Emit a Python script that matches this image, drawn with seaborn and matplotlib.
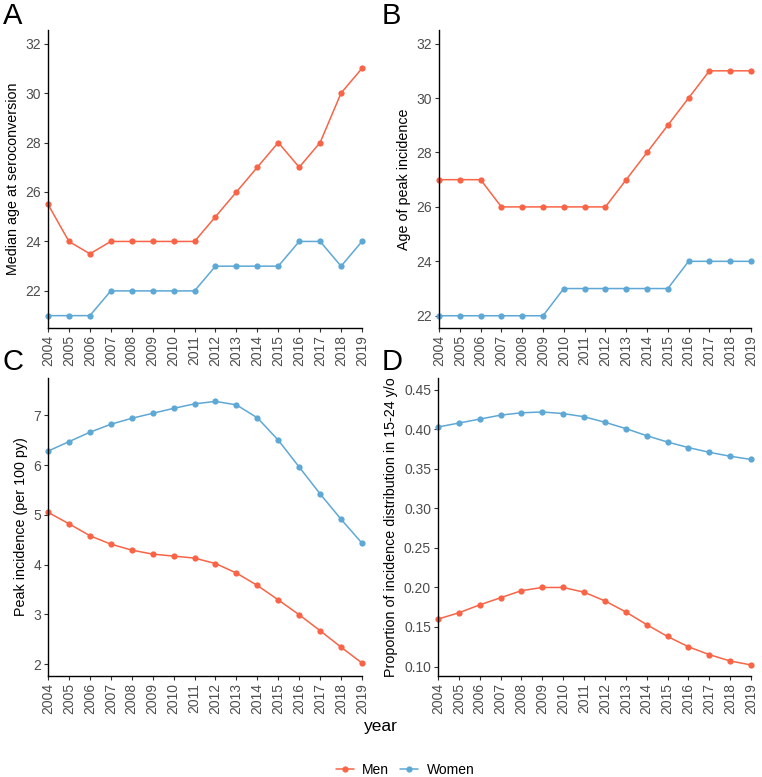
import matplotlib
matplotlib.use("Agg")
import matplotlib.pyplot as plt
import seaborn as sns
import pandas as pd
from matplotlib.lines import Line2D

years = list(range(2004, 2020))

a_men = [25.5, 24, 23.5, 24, 24, 24, 24, 24, 25, 26, 27, 28, 27, 28, 30, 31]
a_women = [21, 21, 21, 22, 22, 22, 22, 22, 23, 23, 23, 23, 24, 24, 23, 24]

b_men = [27, 27, 27, 26, 26, 26, 26, 26, 26, 27, 28, 29, 30, 31, 31, 31]
b_women = [22, 22, 22, 22, 22, 22, 23, 23, 23, 23, 23, 23, 24, 24, 24, 24]

c_men = [5.05, 4.82, 4.58, 4.41, 4.29, 4.21, 4.17, 4.13, 4.02, 3.83, 3.58, 3.29, 2.99, 2.67, 2.34, 2.02]
c_women = [6.28, 6.47, 6.66, 6.82, 6.94, 7.04, 7.14, 7.23, 7.28, 7.21, 6.95, 6.50, 5.96, 5.42, 4.91, 4.43]

d_men = [0.160, 0.168, 0.178, 0.187, 0.196, 0.200, 0.200, 0.194, 0.183, 0.169, 0.153, 0.138, 0.125, 0.115, 0.107, 0.102]
d_women = [0.403, 0.408, 0.413, 0.418, 0.421, 0.422, 0.420, 0.416, 0.409, 0.401, 0.392, 0.384, 0.377, 0.371, 0.366, 0.362]

sexes = ["Men", "Women"]
palette = {"Men": "#F96446", "Women": "#5EA8D6"}

sns.set_theme(style="ticks")
plt.rcParams["font.family"] = ["Liberation Sans", "DejaVu Sans"]
plt.rcParams["text.color"] = "black"

fig = plt.figure(figsize=(7.62, 7.77), dpi=100)
W, H = 762, 777

def add_ax(l, r, t, b):
    return fig.add_axes([l / W, 1 - b / H, (r - l) / W, (b - t) / H])

axA = add_ax(48, 362, 30, 328)
axB = add_ax(439, 751, 30, 328)
axC = add_ax(48, 362, 378, 676)
axD = add_ax(438, 751, 378, 676)

panels = [
    (axA, a_men, a_women, "Median age at seroconversion", (20.5, 32.55), [22, 24, 26, 28, 30, 32], "{:.0f}"),
    (axB, b_men, b_women, "Age of peak incidence", (21.55, 32.5), [22, 24, 26, 28, 30, 32], "{:.0f}"),
    (axC, c_men, c_women, "Peak incidence (per 100 py)", (1.76, 7.75), [2, 3, 4, 5, 6, 7], "{:.0f}"),
    (axD, d_men, d_women, "Proportion of incidence distribution in 15-24 y/o", (0.088, 0.465),
     [0.10, 0.15, 0.20, 0.25, 0.30, 0.35, 0.40, 0.45], "{:.2f}"),
]

for ax, men, women, ylabel, ylim, yticks, fmt in panels:
    df = pd.DataFrame({
        "year": years + years,
        "value": men + women,
        "sex": ["Men"] * len(years) + ["Women"] * len(years),
    })
    sns.lineplot(data=df, x="year", y="value", hue="sex", palette=palette,
                 marker="o", markersize=4.5, markeredgewidth=0, linewidth=1.1,
                 ax=ax, legend=False, clip_on=False)
    ax.set_xlim(2004, 2019)
    ax.set_ylim(*ylim)
    ax.set_xticks(years)
    ax.set_xticklabels([str(y) for y in years], rotation=90, fontsize=10, color="#4D4D4D")
    ax.set_yticks(yticks)
    ax.set_yticklabels([fmt.format(v) for v in yticks], fontsize=10, color="#4D4D4D")
    ax.set_xlabel("")
    ax.set_ylabel(ylabel, fontsize=10.3, color="black", labelpad=4)
    sns.despine(ax=ax)
    for s in ("left", "bottom"):
        ax.spines[s].set_color("black")
        ax.spines[s].set_linewidth(1.0)
    ax.tick_params(axis="both", length=3, width=0.8, color="#333333", pad=2)

for x, y, letter in [(3, 16, "A"), (382, 16, "B"), (3, 362, "C"), (382, 362, "D")]:
    fig.text(x / W, 1 - y / H, letter, fontsize=21, va="center", ha="left", color="black")

fig.text(381 / W, 1 - 727 / H, "year", fontsize=12.5, ha="center", va="center", color="black")

handles = [Line2D([0], [0], color=palette[s], marker="o", markersize=4.5,
                  markeredgewidth=0, linewidth=1.1) for s in sexes]
fig.legend(handles, sexes, loc="center", bbox_to_anchor=(405 / W, 1 - 770 / H),
           ncol=2, frameon=False, fontsize=10, handlelength=1.3,
           columnspacing=0.8, handletextpad=0.6, labelcolor="black",
           borderpad=0, borderaxespad=0)

fig.savefig("out.png", dpi=100)
